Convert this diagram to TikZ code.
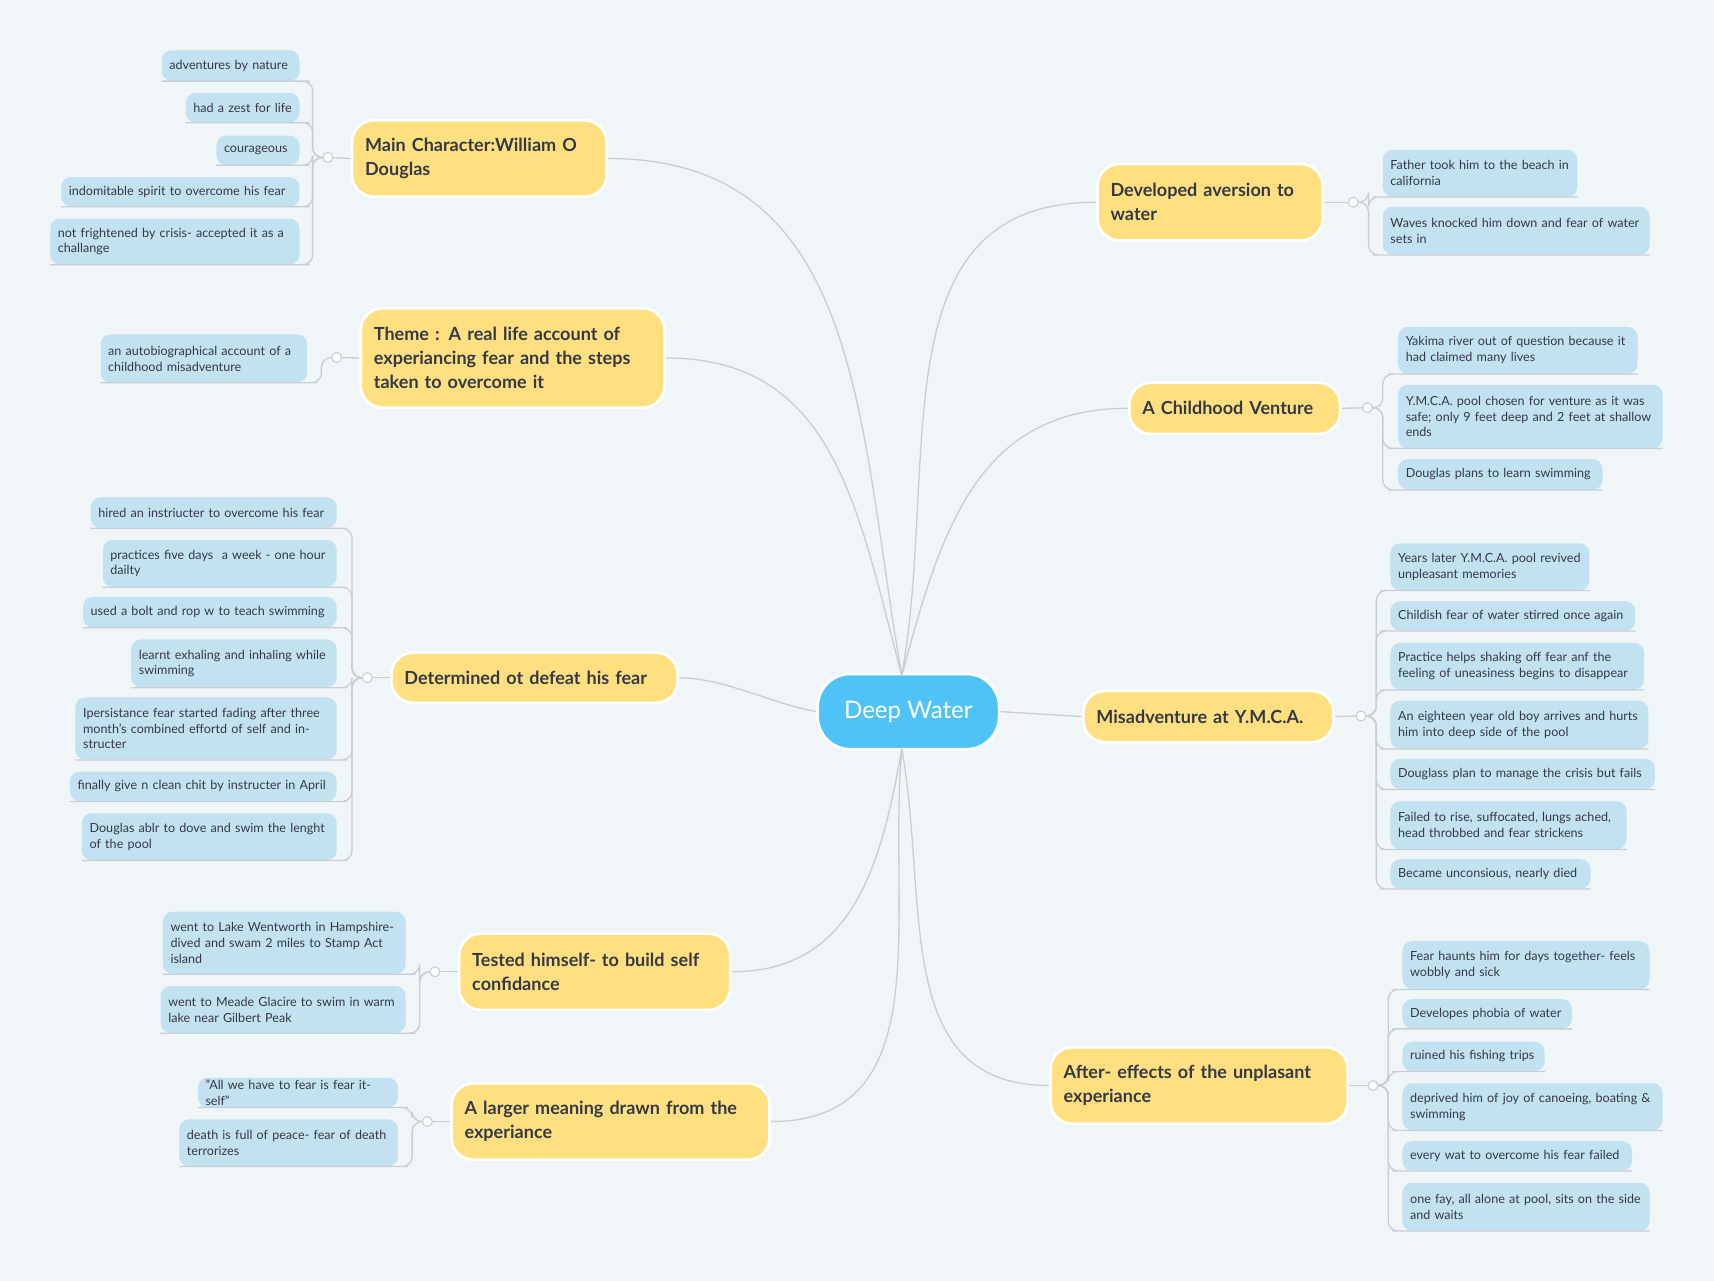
\documentclass[tikz,border=0pt]{standalone}
\usepackage{fontspec}
\setmainfont{Lato}
\definecolor{bgc}{HTML}{F0F5F8}
\definecolor{leafc}{HTML}{C3E2F1}
\definecolor{topicc}{HTML}{FFDF80}
\definecolor{centc}{HTML}{4FC3F7}
\definecolor{linec}{HTML}{C8CED3}
\definecolor{txtc}{HTML}{333A45}
\tikzset{
 leaf/.style={fill=leafc,rounded corners=9pt,inner xsep=7pt,inner ysep=0pt,align=left,text=txtc,font=\fontsize{11.5}{14.5}\selectfont},
 topic/.style={fill=topicc,draw=white,line width=2.5pt,rounded corners=20pt,inner xsep=12pt,inner ysep=0pt,align=left,text=txtc,font=\fontsize{16.5}{22}\selectfont\bfseries},
 conn/.style={draw=linec,line width=1.2pt},
 knob/.style={circle,draw=linec,fill=white,line width=1pt,minimum size=9pt,inner sep=0pt},
}
\newcommand\mkleaf[6]{\pgfmathsetmacro\lw{#4-#2}\pgfmathsetmacro\lh{#5-#3}\pgfmathsetmacro\tw{#4-#2-14}%
\node[leaf,minimum width=\lw pt,minimum height=\lh pt,text width=\tw pt] (#1) at ({(#2+#4)/2},{(#3+#5)/2}) {#6};}
\newcommand\mktopic[6]{\pgfmathsetmacro\lw{#4-#2}\pgfmathsetmacro\lh{#5-#3}\pgfmathsetmacro\tw{#4-#2-24}%
\node[topic,minimum width=\lw pt,minimum height=\lh pt,text width=\tw pt] (#1) at ({(#2+#4)/2},{(#3+#5)/2}) {#6};}
\newcommand\lbr[2]{\draw[conn,rounded corners=9pt] (#1.west) -- ++(-9,0) |- (#2.south east) -- (#2.south west);}
\newcommand\rbr[2]{\draw[conn,rounded corners=9pt] (#1.east) -- ++(9,0) |- (#2.south west) -- (#2.south east);}
\begin{document}
\begin{tikzpicture}[x=1pt,y=-1pt]
\fill[bgc] (0,0) rectangle (1568,1172);
\useasboundingbox (0,0) rectangle (1568,1172);
% center
\node[fill=centc,draw=white,line width=2.5pt,rounded corners=30pt,minimum width=166pt,minimum height=69pt,text=white,font=\fontsize{22}{26}\selectfont] (dw) at (831,651) {Deep Water};
% topics
\mktopic{t1}{322}{110}{555}{180}{Main Character:William O Douglas}
\mktopic{t2}{330}{282}{608}{373}{Theme : A real life account of experiancing fear and the steps taken to overcome it}
\mktopic{t3}{358}{597}{620}{643}{Determined ot defeat his fear}
\mktopic{t4}{420}{854}{668}{924}{Tested himself- to build self confidance}
\mktopic{t5}{413}{991}{704}{1061}{A larger meaning drawn from the experiance}
\mktopic{t6}{1004}{150}{1210}{220}{Developed aversion to water}
\mktopic{t7}{1033}{350}{1226}{397}{A Childhood Venture}
\mktopic{t8}{991}{632}{1220}{679}{Misadventure at Y.M.C.A.}
\mktopic{t9}{961}{958}{1233}{1028}{After- effects of the unplasant experiance}
% main connectors
\coordinate (cu) at (825,618);
\coordinate (cd) at (825,685);
\draw[conn] (cu) to[out=100,in=0,looseness=1.1] (t1.east);
\draw[conn] (cu) to[out=105,in=0,looseness=1.1] (t2.east);
\draw[conn] (dw.west) to[out=170,in=0,looseness=0.8] (t3.east);
\draw[conn] (cd) to[out=260,in=0,looseness=1.1] (t4.east);
\draw[conn] (cd) to[out=265,in=0,looseness=1.1] (t5.east);
\draw[conn] (cu) to[out=80,in=180,looseness=1.1] (t6.west);
\draw[conn] (cu) to[out=75,in=180,looseness=1.1] (t7.west);
\draw[conn] (dw.east) -- (t8.west);
\draw[conn] (cd) to[out=280,in=180,looseness=1.1] (t9.west);
% knobs
\node[knob] (k1) at (300,144) {}; \draw[conn] (t1.west) -- (k1);
\node[knob] (k2) at (308,327) {}; \draw[conn] (t2.west) -- (k2);
\node[knob] (k3) at (336,620) {}; \draw[conn] (t3.west) -- (k3);
\node[knob] (k4) at (398,889) {}; \draw[conn] (t4.west) -- (k4);
\node[knob] (k5) at (391,1026) {}; \draw[conn] (t5.west) -- (k5);
\node[knob] (k6) at (1238,185) {}; \draw[conn] (t6.east) -- (k6);
\node[knob] (k7) at (1251,373) {}; \draw[conn] (t7.east) -- (k7);
\node[knob] (k8) at (1245,655) {}; \draw[conn] (t8.east) -- (k8);
\node[knob] (k9) at (1256,993) {}; \draw[conn] (t9.east) -- (k9);
% leaves: main character
\mkleaf{a1}{148}{46}{274}{74}{adventures by nature}
\mkleaf{a2}{170}{85}{274}{112}{had a zest for life}
\mkleaf{a3}{198}{124}{274}{151}{courageous}
\mkleaf{a4}{56}{162}{274}{189}{indomitable spirit to overcome his fear}
\mkleaf{a5}{46}{200}{274}{242}{not frightened by crisis- accepted it as a challange}
\foreach \l in {a1,a2,a3,a4,a5} {\lbr{k1}{\l}}
\mkleaf{b1}{92}{306}{281}{350}{an autobiographical account of a childhood misadventure}
\lbr{k2}{b1}
\mkleaf{c1}{83}{455}{308}{483}{hired an instriucter to overcome his fear}
\mkleaf{c2}{94}{494}{308}{537}{practices five days\ \ a week - one hour dailty}
\mkleaf{c3}{76}{546}{308}{574}{used a bolt and rop w to teach swimming}
\mkleaf{c4}{120}{585}{308}{629}{learnt exhaling and inhaling while swimming}
\mkleaf{c5}{69}{638}{308}{695}{Ipersistance fear started fading after three month's combined effortd of self and instructer}
\mkleaf{c6}{64}{706}{308}{733}{finally give n clean chit by instructer in April}
\mkleaf{c7}{75}{744}{308}{787}{Douglas ablr to dove and swim the lenght of the pool}
\foreach \l in {c1,c2,c3,c4,c5,c6,c7} {\lbr{k3}{\l}}
\mkleaf{d1}{149}{834}{371}{891}{went to Lake Wentworth in Hampshire- dived and swam 2 miles to Stamp Act island}
\mkleaf{d2}{147}{902}{371}{945}{went to Meade Glacire to swim in warm lake near Gilbert Peak}
\foreach \l in {d1,d2} {\lbr{k4}{\l}}
\mkleaf{e1}{181}{986}{364}{1013}{"All we have to fear is fear itself"}
\mkleaf{e2}{164}{1024}{364}{1067}{death is full of peace- fear of death terrorizes}
\foreach \l in {e1,e2} {\lbr{k5}{\l}}
% right
\mkleaf{f1}{1265}{137}{1443}{180}{Father took him to the beach in california}
\mkleaf{f2}{1265}{189}{1509}{233}{Waves knocked him down and fear of water sets in}
\foreach \l in {f1,f2} {\rbr{k6}{\l}}
\mkleaf{g1}{1279}{299}{1498}{342}{Yakima river out of question because it had claimed many lives}
\mkleaf{g2}{1279}{352}{1521}{410}{Y.M.C.A. pool chosen for venture as it was safe; only 9 feet deep and 2 feet at shallow ends}
\mkleaf{g3}{1279}{420}{1466}{448}{Douglas plans to learn swimming}
\foreach \l in {g1,g2,g3} {\rbr{k7}{\l}}
\mkleaf{h1}{1272}{497}{1454}{540}{Years later Y.M.C.A. pool revived unpleasant memories}
\mkleaf{h2}{1272}{550}{1496}{577}{Childish fear of water stirred once again}
\mkleaf{h3}{1272}{588}{1504}{631}{Practice helps shaking off fear anf the feeling of uneasiness begins to disappear}
\mkleaf{h4}{1272}{641}{1508}{685}{An eighteen year old boy arrives and hurts him into deep side of the pool}
\mkleaf{h5}{1272}{694}{1514}{722}{Douglass plan to manage the crisis but fails}
\mkleaf{h6}{1272}{733}{1488}{777}{Failed to rise, suffocated, lungs ached, head throbbed and fear strickens}
\mkleaf{h7}{1272}{786}{1455}{813}{Became unconsious, nearly died}
\foreach \l in {h1,h2,h3,h4,h5,h6,h7} {\rbr{k8}{\l}}
\mkleaf{i1}{1283}{861}{1509}{905}{Fear haunts him for days together- feels wobbly and sick}
\mkleaf{i2}{1283}{914}{1438}{941}{Developes phobia of water}
\mkleaf{i3}{1283}{953}{1413}{980}{ruined his fishing trips}
\mkleaf{i4}{1283}{991}{1521}{1034}{deprived him of joy of canoeing, boating \& swimming}
\mkleaf{i5}{1283}{1044}{1493}{1071}{every wat to overcome his fear failed}
\mkleaf{i6}{1283}{1082}{1509}{1126}{one fay, all alone at pool, sits on the side and waits}
\foreach \l in {i1,i2,i3,i4,i5,i6} {\rbr{k9}{\l}}
\end{tikzpicture}
\end{document}
